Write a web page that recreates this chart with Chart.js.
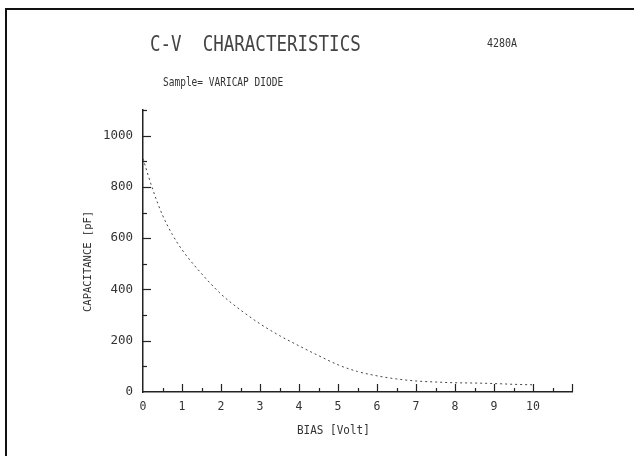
<!DOCTYPE html>
<html><head><meta charset="utf-8">
<script src="https://cdn.jsdelivr.net/npm/chart.js@4/dist/chart.umd.min.js"></script>
<style>
html,body{margin:0;padding:0;background:#fff;}
#wrap{position:relative;width:634px;height:459px;overflow:hidden;}
#frameL{position:absolute;left:5px;top:9px;width:2px;height:447px;background:#111;}
#frameT{position:absolute;left:5px;top:8px;width:629px;height:2px;background:#111;}
.t{position:absolute;font-family:"DejaVu Sans Mono",monospace;color:#333;white-space:pre;line-height:1;transform-origin:left center;font-weight:normal;}
canvas{position:absolute;left:0;top:0;}
</style></head><body>
<div id="wrap">
<canvas id="c" width="634" height="459"></canvas>
<div id="frameL"></div><div id="frameT"></div>
<div class="t" id="title" style="left:150px;top:36px;font-size:17.5px;color:#444;transform:scaleY(1.25);">C-V  CHARACTERISTICS</div>
<div class="t" id="model" style="left:487px;top:38px;font-size:10px;transform:scaleY(1.2);">4280A</div>
<div class="t" id="sample" style="left:163px;top:77px;font-size:9.5px;transform:scaleY(1.3);">Sample= VARICAP DIODE</div>
<div class="t" id="ytitle" style="left:82px;top:259px;font-size:10.5px;width:112px;height:12px;text-align:center;transform:rotate(-90deg);transform-origin:6px 6px;"></div>
<div class="t" id="xtitle" style="left:297px;top:424px;font-size:11px;transform:scaleY(1.15);">BIAS [Volt]</div>
</div>
<script>
// Data
const biasVolts = [0, 0.25, 0.5, 0.75, 1, 1.5, 2, 2.5, 3, 3.5, 4, 4.5, 5, 5.5, 6, 6.5, 7, 7.5, 8, 8.5, 9, 9.5, 10];
const capacitancePF = [910, 790, 690, 615, 555, 462, 382, 320, 266, 220, 180, 142, 106, 80, 63, 51, 43, 39, 36, 35, 33, 30, 28];
const xTickLabels = ['0','1','2','3','4','5','6','7','8','9','10'];
const yTickLabels = ['0','200','400','600','800','1000'];

// y-axis title as real text
const yt = document.getElementById('ytitle');
yt.textContent = 'CAPACITANCE [pF]';
yt.style.width = 'auto';
yt.style.left = '82px';
yt.style.top = '312px';
yt.style.transformOrigin = '0 0';
yt.style.transform = 'rotate(-90deg)';

const points = biasVolts.map((v, i) => ({x: v, y: capacitancePF[i]}));

const inwardTicks = {
  id: 'inwardTicks',
  afterDraw(chart) {
    const ctx = chart.ctx;
    const xs = chart.scales.x, ys = chart.scales.y;
    const x0 = xs.getPixelForValue(0), y0 = ys.getPixelForValue(0);
    ctx.save();
    ctx.strokeStyle = '#222';
    ctx.lineWidth = 1.2;
    for (let v = 0.5; v <= 11.001; v += 0.5) {
      const px = Math.round(xs.getPixelForValue(v)) + 0.5;
      const len = (Math.abs(v - Math.round(v)) < 1e-6) ? 8 : 4;
      ctx.beginPath(); ctx.moveTo(px, y0); ctx.lineTo(px, y0 - len); ctx.stroke();
    }
    for (let v = 100; v <= 1100.001; v += 100) {
      const py = Math.round(ys.getPixelForValue(v)) + 0.5;
      const len = (v % 200 === 0) ? 8 : 4;
      ctx.beginPath(); ctx.moveTo(x0, py); ctx.lineTo(x0 + len, py); ctx.stroke();
    }
    ctx.restore();
  }
};

new Chart(document.getElementById('c'), {
  type: 'line',
  data: {
    datasets: [{
      data: points,
      borderColor: '#444',
      borderWidth: 1,
      borderDash: [2, 3],
      pointRadius: 0,
      cubicInterpolationMode: 'monotone',
      fill: false
    }]
  },
  options: {
    responsive: false,
    animation: false,
    events: [],
    layout: {padding: {left: 0, top: 110, right: 62, bottom: 0}},
    plugins: {legend: {display: false}, tooltip: {enabled: false}, title: {display: false}},
    scales: {
      x: {
        type: 'linear', min: 0, max: 11,
        afterFit(s) { s.height = 67; },
        grid: {display: false, drawTicks: false},
        border: {display: true, color: '#222', width: 1.5},
        ticks: {
          stepSize: 1, autoSkip: false, maxRotation: 0, padding: 8,
          color: '#333',
          font: {family: 'DejaVu Sans Mono', size: 11.5},
          callback: (v) => { const i = xTickLabels.indexOf(String(v)); return i >= 0 ? xTickLabels[i] : ''; }
        }
      },
      y: {
        type: 'linear', min: 0, max: 1100,
        afterFit(s) { s.width = 143; },
        grid: {display: false, drawTicks: false},
        border: {display: true, color: '#222', width: 1.5},
        ticks: {
          stepSize: 100, autoSkip: false, padding: 10,
          color: '#333',
          font: {family: 'DejaVu Sans Mono', size: 12.5},
          callback: (v) => { const i = yTickLabels.indexOf(String(v)); return i >= 0 ? yTickLabels[i] : ''; }
        }
      }
    }
  },
  plugins: [inwardTicks]
});
</script>
</body></html>
